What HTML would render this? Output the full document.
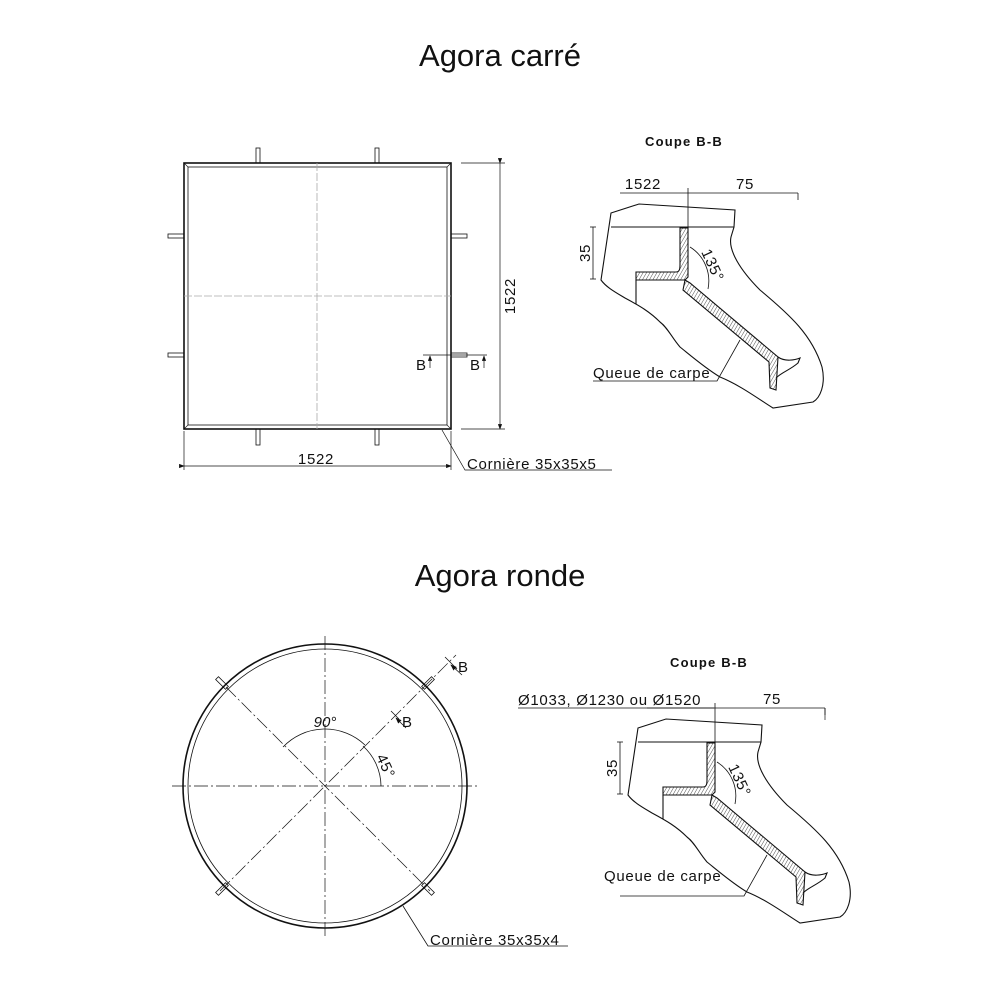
<!DOCTYPE html>
<html><head><meta charset="utf-8"><style>
body{margin:0;background:#fff}
svg{display:block}
text{font-family:"Liberation Sans",sans-serif;fill:#111}
.l{font-size:15px;letter-spacing:0.7px}
</style></head><body>
<svg width="1000" height="1000" viewBox="0 0 1000 1000">
<defs>
<pattern id="h" width="3" height="3" patternUnits="userSpaceOnUse" patternTransform="rotate(30)">
<line x1="0" y1="0" x2="0" y2="3" stroke="#222" stroke-width="0.8"/></pattern>
<marker id="a" markerWidth="8" markerHeight="6" refX="7" refY="3" orient="auto"><path d="M0,0 L8,3 L0,6z" fill="#111"/></marker>
<g id="sec" fill="none" stroke="#111" stroke-width="1.1">
<path d="M611,213 L639,204 L735,210 L734,227 L731,237 C728,250 740,270 760,290 C790,315 812,335 822,367 C826,385 820,398 813,402 L773,408 C760,400 740,385 720,377 C705,368 690,355 680,347 C672,338 668,328 660,322 C650,312 640,306 625,298 C615,292 606,287 601,280 Z"/>
<line x1="611" y1="227" x2="734" y2="227"/>
<path d="M680,228 L688,228 L688,277 L685,280 L636,280 L636,272 L676,272 C680,272 680,268 680,264 Z" fill="url(#h)"/>
<path d="M685,280 L690,283 L778,357 L776,390 L770,388 L769,362 L683,290 Z" fill="url(#h)"/>
<path d="M778,357 C785,362 795,360 800,358 L798,363 C790,370 782,372 776,378" />
<line x1="636" y1="280" x2="636" y2="304"/>
<line x1="593" y1="227" x2="593" y2="279" stroke-width="0.8"/>
<line x1="590" y1="227" x2="596" y2="227" stroke-width="0.8"/>
<line x1="590" y1="279" x2="596" y2="279" stroke-width="0.8"/>
<line x1="620" y1="193" x2="798" y2="193" stroke-width="0.8"/>
<line x1="798" y1="193" x2="798" y2="200" stroke-width="0.8"/>
<line x1="688" y1="188" x2="688" y2="228" stroke-width="0.8"/>
<path d="M690,247 A40,40 0 0 1 708,289" stroke-width="0.8"/>
<polyline points="740,340 717,381 593,381" stroke-width="0.8"/>
</g>
</defs>

<text x="500" y="66" font-size="31" text-anchor="middle">Agora carré</text>
<text x="500" y="586" font-size="31" text-anchor="middle">Agora ronde</text>

<!-- Square -->
<g fill="none" stroke="#111">
<rect x="184" y="163" width="267" height="266" stroke-width="1.6"/>
<rect x="188" y="167" width="259" height="258" stroke-width="0.8"/>
<line x1="184" y1="163" x2="188" y2="167" stroke-width="0.6"/><line x1="451" y1="163" x2="447" y2="167" stroke-width="0.6"/>
<line x1="184" y1="429" x2="188" y2="425" stroke-width="0.6"/><line x1="451" y1="429" x2="447" y2="425" stroke-width="0.6"/>
<g stroke-width="0.8">
<rect x="256" y="148" width="4" height="15"/><rect x="375" y="148" width="4" height="15"/>
<rect x="256" y="429" width="4" height="16"/><rect x="375" y="429" width="4" height="16"/>
<rect x="168" y="234" width="16" height="4"/><rect x="168" y="353" width="16" height="4"/>
<rect x="451" y="234" width="16" height="4"/><rect x="451" y="353" width="16" height="4"/>
</g>
<line x1="317" y1="163" x2="317" y2="429" stroke="#aaa" stroke-width="0.8" stroke-dasharray="8,2"/>
<line x1="184" y1="296" x2="451" y2="296" stroke="#aaa" stroke-width="0.8" stroke-dasharray="8,2"/>
<g stroke-width="0.7">
<line x1="461" y1="163" x2="505" y2="163"/><line x1="461" y1="429" x2="505" y2="429"/>
<line x1="500" y1="163" x2="500" y2="429" marker-start="url(#a)" marker-end="url(#a)"/>
<line x1="184" y1="431" x2="184" y2="470"/><line x1="451" y1="431" x2="451" y2="470"/>
<line x1="184" y1="466" x2="451" y2="466" marker-start="url(#a)" marker-end="url(#a)"/>
<polyline points="442,430 465,470 612,470"/>
<line x1="423" y1="355" x2="487" y2="355"/>
<line x1="430" y1="368" x2="430" y2="356" marker-end="url(#a)"/>
<line x1="484" y1="368" x2="484" y2="356" marker-end="url(#a)"/>
</g>
</g>
<text x="316" y="464" class="l" text-anchor="middle">1522</text>
<text x="0" y="0" class="l" text-anchor="middle" transform="translate(515,296) rotate(-90)">1522</text>
<text x="467" y="469" class="l">Cornière 35x35x5</text>
<text x="416" y="370" class="l">B</text>
<text x="470" y="370" class="l">B</text>

<!-- Section 1 -->
<text x="684" y="146" font-size="13" font-weight="bold" letter-spacing="1.2" text-anchor="middle">Coupe B-B</text>
<use href="#sec"/>
<text x="643" y="189" class="l" text-anchor="middle">1522</text>
<text x="745" y="189" class="l" text-anchor="middle">75</text>
<text x="0" y="0" class="l" text-anchor="middle" transform="translate(590,253) rotate(-90)">35</text>
<text x="0" y="0" class="l" transform="translate(701,252) rotate(65)">135°</text>
<text x="593" y="378" class="l">Queue de carpe</text>

<!-- Circle -->
<g fill="none" stroke="#111">
<circle cx="325" cy="786" r="142" stroke-width="1.6"/>
<circle cx="325" cy="786" r="137" stroke-width="0.8"/>
<g stroke-width="0.7" stroke-dasharray="14,3,2,3">
<line x1="325" y1="636" x2="325" y2="936"/>
<line x1="172" y1="786" x2="478" y2="786"/>
<line x1="226" y1="687" x2="430" y2="891"/>
<line x1="220" y1="891" x2="456" y2="655"/>
</g>
<g stroke-width="0.8">
<rect x="-2" y="-7" width="4" height="14" transform="translate(222,683) rotate(-45)"/>
<rect x="-2" y="-7" width="4" height="14" transform="translate(428,683) rotate(45)"/>
<rect x="-2" y="-7" width="4" height="14" transform="translate(222,889) rotate(45)"/>
<rect x="-2" y="-7" width="4" height="14" transform="translate(428,889) rotate(-45)"/>
<path d="M283,747 A58,58 0 0 1 365,745" stroke-width="0.8"/>
<path d="M363,746 A55,55 0 0 1 381,786" stroke-width="0.8"/>
<line x1="445" y1="657" x2="457" y2="669"/>
<line x1="391" y1="711" x2="399" y2="719"/>
<line x1="462" y1="675" x2="451" y2="665" marker-end="url(#a)"/>
<line x1="406" y1="728" x2="396" y2="718" marker-end="url(#a)"/>
<polyline points="403,906 428,946 568,946"/>
</g>
</g>
<text x="325" y="727" font-size="15" font-style="italic" text-anchor="middle">90°</text>
<text x="0" y="0" class="l" transform="translate(376,757) rotate(65)">45°</text>
<text x="458" y="672" class="l">B</text>
<text x="402" y="727" class="l">B</text>
<text x="430" y="945" class="l">Cornière 35x35x4</text>

<!-- Section 2 -->
<text x="709" y="667" font-size="13" font-weight="bold" letter-spacing="1.2" text-anchor="middle">Coupe B-B</text>
<g transform="translate(27,515)">
<use href="#sec"/>
</g>
<rect x="500" y="688" width="212" height="18" fill="#fff"/>
<line x1="518" y1="708" x2="714" y2="708" stroke="#111" stroke-width="0.7"/>
<line x1="825" y1="708" x2="825" y2="720" stroke="#111" stroke-width="0.7"/>
<text x="518" y="705" class="l" letter-spacing="0.6">Ø1033, Ø1230 ou Ø1520</text>
<text x="772" y="704" class="l" text-anchor="middle">75</text>
<text x="0" y="0" class="l" text-anchor="middle" transform="translate(617,768) rotate(-90)">35</text>
<text x="0" y="0" class="l" transform="translate(728,767) rotate(65)">135°</text>
<text x="604" y="881" class="l">Queue de carpe</text>
</svg>
</body></html>
